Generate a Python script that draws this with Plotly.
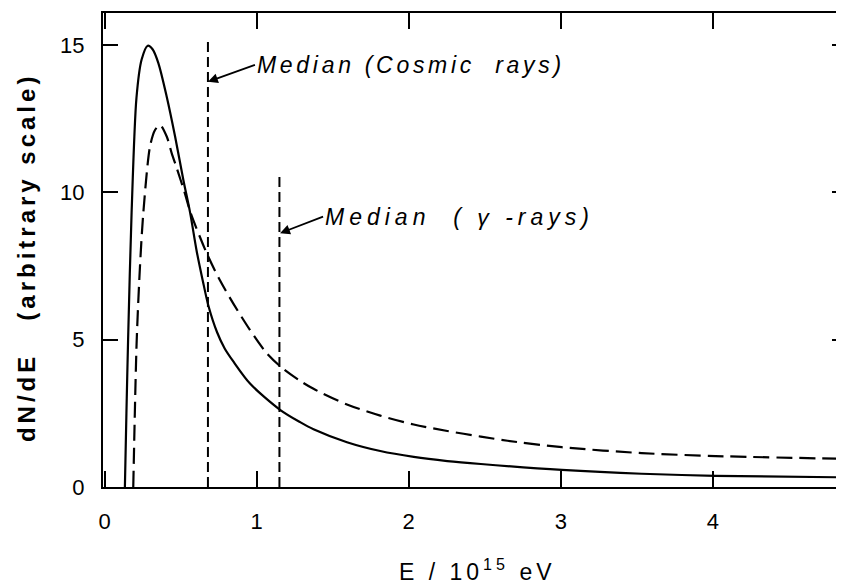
import plotly.graph_objects as go

# Solid curve (cosmic rays)
solid_E = [0.134, 0.144, 0.155, 0.178, 0.21, 0.244, 0.284, 0.316, 0.354, 0.409, 0.464, 0.519,
           0.563, 0.606, 0.646, 0.683, 0.74, 0.79, 0.848, 0.958, 1.154, 1.286, 1.374, 1.594,
           1.813, 2.033, 2.254, 2.474, 3.007, 3.532, 4.016, 4.82]
solid_y = [0, 2.5, 5.0, 9.3, 13.2, 14.5, 14.97, 14.85, 14.38, 13.24, 11.89, 10.4,
           9.3, 8.0, 7.0, 6.15, 5.25, 4.7, 4.25, 3.5, 2.62, 2.2, 1.96, 1.52,
           1.22, 1.02, 0.88, 0.78, 0.58, 0.45, 0.38, 0.33]

# Dashed curve (gamma rays)
dashed_E = [0.189, 0.211, 0.233, 0.255, 0.299, 0.332, 0.365, 0.409, 0.442, 0.476, 0.526, 0.566,
            0.672, 0.758, 0.846, 0.956, 1.066, 1.165, 1.286, 1.374, 1.594, 1.813, 2.033, 2.254,
            2.474, 2.65, 3.007, 3.532, 4.016, 4.82]
dashed_y = [0, 4.88, 7.47, 9.29, 11.55, 12.11, 12.28, 11.89, 11.32, 10.8, 10.0, 9.3,
            7.93, 7.02, 6.23, 5.33, 4.54, 4.05, 3.6, 3.33, 2.8, 2.42, 2.12, 1.9,
            1.71, 1.57, 1.35, 1.15, 1.05, 0.96]

# Median markers
median_names = ["Median\u00a0(Cosmic\u00a0\u00a0rays)", "Median\u00a0\u00a0(\u00a0\u03b3\u00a0-rays)"]
median_E = [0.68, 1.15]
median_top = [15.17, 10.59]

x_ticks = [0, 1, 2, 3, 4]
y_ticks = [0, 5, 10, 15]

FONT = "Liberation Sans"

fig = go.Figure()
fig.add_trace(go.Scatter(x=solid_E, y=solid_y, mode="lines", hoverinfo="skip",
                         line=dict(color="black", width=2.2, shape="spline", smoothing=0.8)))
fig.add_trace(go.Scatter(x=dashed_E, y=dashed_y, mode="lines", yaxis="y2", hoverinfo="skip",
                         line=dict(color="black", width=2.2, dash="16px,7px", shape="spline", smoothing=0.8)))
for E, top in zip(median_E, median_top):
    fig.add_trace(go.Scatter(x=[E, E], y=[0, top], mode="lines", hoverinfo="skip",
                             line=dict(color="black", width=2, dash="10px,5px")))

# arrow tail (= text left edge) and arrow head, in data units
label_pos = [(0.989, 14.32, 0.68, 13.75), (1.437, 9.17, 1.154, 8.61)]
label_spacing = ["3.7px", "5px"]
annotations = []
for name, (ax, ay, hx, hy), sp in zip(median_names, label_pos, label_spacing):
    annotations.append(dict(x=hx, y=hy, ax=ax, ay=ay, xref="x", yref="y", axref="x", ayref="y",
                            showarrow=True, arrowhead=2, arrowsize=1.1, arrowwidth=1.8,
                            arrowcolor="black", standoff=0, xanchor="left", yanchor="middle",
                            text='<i><span style="letter-spacing:' + sp + '">' + name + '</span></i>',
                            font=dict(family=FONT, size=23, color="black")))

annotations.append(dict(x=0.506, y=-0.175, xref="paper", yref="paper", showarrow=False,
                        xanchor="center", yanchor="middle",
                        text='<span style="letter-spacing:4px">E\u00a0/\u00a010<sup>15</sup>\u00a0eV</span>',
                        font=dict(family=FONT, size=23, color="black")))
annotations.append(dict(x=-0.104, y=0.485, xref="paper", yref="paper", showarrow=False,
                        xanchor="center", yanchor="middle", textangle=-90,
                        text='<b><span style="letter-spacing:4px">dN/dE\u00a0\u00a0\u00a0(arbitrary\u00a0scale)</span></b>',
                        font=dict(family=FONT, size=24, color="black")))

axis_font = dict(family=FONT, size=22, color="black")
# page body adds an 8px offset; figure is sized so the plot frame lands where the reference has it
fig.update_layout(
    width=836, height=577,
    margin=dict(l=95, r=0, t=5, b=98, pad=0),
    plot_bgcolor="white", paper_bgcolor="white", showlegend=False,
    xaxis=dict(range=[-0.01, 4.862], tickvals=x_ticks, ticks="inside", ticklen=16, tickwidth=2,
               tickcolor="black", showline=True, linewidth=2, linecolor="black", mirror="ticks",
               showgrid=False, zeroline=False, tickfont=axis_font, ticklabelstandoff=14),
    yaxis=dict(range=[0, 16.08], tickvals=y_ticks, ticks="inside", ticklen=15, tickwidth=2,
               tickcolor="black", showline=True, linewidth=2, linecolor="black",
               showgrid=False, zeroline=False, tickfont=axis_font, ticklabelstandoff=12),
    yaxis2=dict(overlaying="y", side="right", anchor="x", range=[0, 16.08], tickvals=[5, 10, 15],
                ticks="inside", ticklen=12, tickwidth=2, tickcolor="black", showticklabels=False,
                showline=False, showgrid=False, zeroline=False),
    annotations=annotations,
)

fig.write_html("out.html")
